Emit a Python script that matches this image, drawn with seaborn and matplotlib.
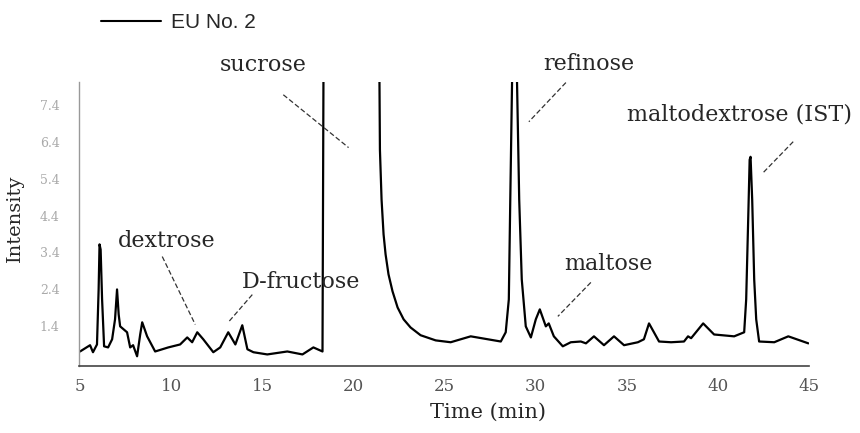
import matplotlib
matplotlib.use("Agg")
import matplotlib.pyplot as plt
import seaborn as sns
import pandas as pd

# chromatogram: retention time (min) and intensity
time_min = [5.00, 5.55, 5.71, 5.93, 6.02, 6.07, 6.13, 6.21, 6.32, 6.54,
            6.76, 6.92, 7.03, 7.12, 7.20, 7.58, 7.75, 7.91, 8.13, 8.30,
            8.41, 8.68, 9.12, 9.84, 10.49, 10.88, 11.15, 11.43, 11.76, 12.31,
            12.69, 13.13, 13.52, 13.90, 14.18, 14.51, 15.27, 16.37, 17.20, 17.80,
            18.30, 18.38, 21.37, 21.45, 21.54, 21.65, 21.76, 21.92, 22.14, 22.42,
            22.75, 23.13, 23.68, 24.51, 25.33, 26.43, 28.08, 28.35, 28.52, 28.60,
            28.82, 29.09, 29.23, 29.45, 29.73, 30.00, 30.22, 30.55, 30.71, 30.99,
            31.48, 31.92, 32.47, 32.75, 33.19, 33.74, 34.29, 34.84, 35.60, 35.93,
            36.21, 36.48, 36.76, 37.42, 38.13, 38.35, 38.52, 39.18, 39.78, 40.88,
            41.43, 41.54, 41.65, 41.73, 41.78, 41.87, 41.98, 42.09, 42.25, 43.08,
            43.85, 44.95]
intensity = [0.72, 0.89, 0.70, 0.91, 2.40, 3.62, 3.48, 2.13, 0.86, 0.83,
             1.05, 1.59, 2.40, 1.72, 1.40, 1.24, 0.83, 0.89, 0.59, 1.18,
             1.51, 1.13, 0.72, 0.83, 0.91, 1.10, 0.97, 1.24, 1.05, 0.70,
             0.83, 1.24, 0.91, 1.43, 0.78, 0.70, 0.64, 0.72, 0.64, 0.83,
             0.72, 12.0, 12.0, 6.18, 4.83, 3.89, 3.35, 2.81, 2.35, 1.91,
             1.59, 1.37, 1.16, 1.02, 0.97, 1.13, 0.99, 1.24, 2.13, 4.83,
             12.0, 4.83, 2.67, 1.40, 1.10, 1.59, 1.86, 1.40, 1.48, 1.13,
             0.86, 0.97, 0.99, 0.94, 1.13, 0.89, 1.13, 0.89, 0.97, 1.05,
             1.48, 1.24, 0.99, 0.97, 0.99, 1.13, 1.08, 1.48, 1.18, 1.13,
             1.24, 2.13, 4.29, 5.91, 5.99, 4.83, 2.67, 1.59, 0.99, 0.97,
             1.13, 0.94]

x_ticks = [5, 10, 15, 20, 25, 30, 35, 40, 45]
y_ticks = [0.4, 1.4, 2.4, 3.4, 4.4, 5.4, 6.4, 7.4]
y_ticklabels = ["", "1.4", "2.4", "3.4", "4.4", "5.4", "6.4", "7.4"]

# peak names: (label, text position, leader start, leader end)
peak_labels = [
    ("sucrose", (15.05, 8.48), (16.15, 7.67), (19.73, 6.24)),
    ("refinose", (32.90, 8.51), (31.65, 8.00), (29.62, 6.94)),
    ("maltodextrose (IST)", (41.15, 7.13), (44.12, 6.40), (42.47, 5.56)),
    ("maltose", (34.00, 3.08), (33.02, 2.59), (31.21, 1.67)),
    ("dextrose", (9.78, 3.70), (9.51, 3.29), (11.32, 1.45)),
    ("D-fructose", (17.10, 2.59), (14.45, 2.26), (13.13, 1.51)),
]

df = pd.DataFrame({"time": time_min, "intensity": intensity, "sample": "EU No. 2"})

sns.set_style("white")
plt.rcParams["font.family"] = ["DejaVu Serif"]

fig = plt.figure(figsize=(8.6, 4.33), dpi=100)
ax = fig.add_axes([0.092, 0.155, 0.849, 0.656])

sns.lineplot(data=df, x="time", y="intensity", hue="sample", palette=["black"],
             estimator=None, sort=False, linewidth=1.6, ax=ax)

ax.set_xlim(4.95, 45.0)
ax.set_ylim(0.33, 8.02)
ax.set_xticks(x_ticks)
ax.set_yticks(y_ticks)
ax.set_yticklabels(y_ticklabels)
ax.tick_params(axis="x", direction="in", length=5, width=1, pad=9,
               labelsize=12, labelcolor="#555555", color="#444444")
ax.tick_params(axis="y", direction="in", length=4, width=1.2, pad=14,
               labelsize=9, labelcolor="#aaaaaa", color="#666666")

for side in ["top", "right"]:
    ax.spines[side].set_visible(False)
ax.spines["left"].set_color("#999999")
ax.spines["left"].set_linewidth(1.0)
ax.spines["bottom"].set_color("#444444")
ax.spines["bottom"].set_linewidth(1.2)

ax.set_xlabel("Time (min)", fontsize=15)
ax.set_ylabel("Intensity", fontsize=14)
ax.xaxis.set_label_coords(0.56, -0.13)
ax.yaxis.set_label_coords(-0.075, 0.52)

for name, txt, p0, p1 in peak_labels:
    ax.text(txt[0], txt[1], name, fontsize=16, ha="center", va="center", clip_on=False)
    ax.plot([p0[0], p1[0]], [p0[1], p1[1]], color="#333333", lw=0.9,
            ls=(0, (4, 2)), clip_on=False)

leg = ax.legend(loc="center left", bbox_to_anchor=(0.018, 1.208), frameon=False,
                handlelength=2.9, handletextpad=0.5, borderaxespad=0,
                prop={"family": "Liberation Sans", "size": 15})
for line in leg.get_lines():
    line.set_linewidth(1.5)

fig.savefig("out.png", dpi=100)
